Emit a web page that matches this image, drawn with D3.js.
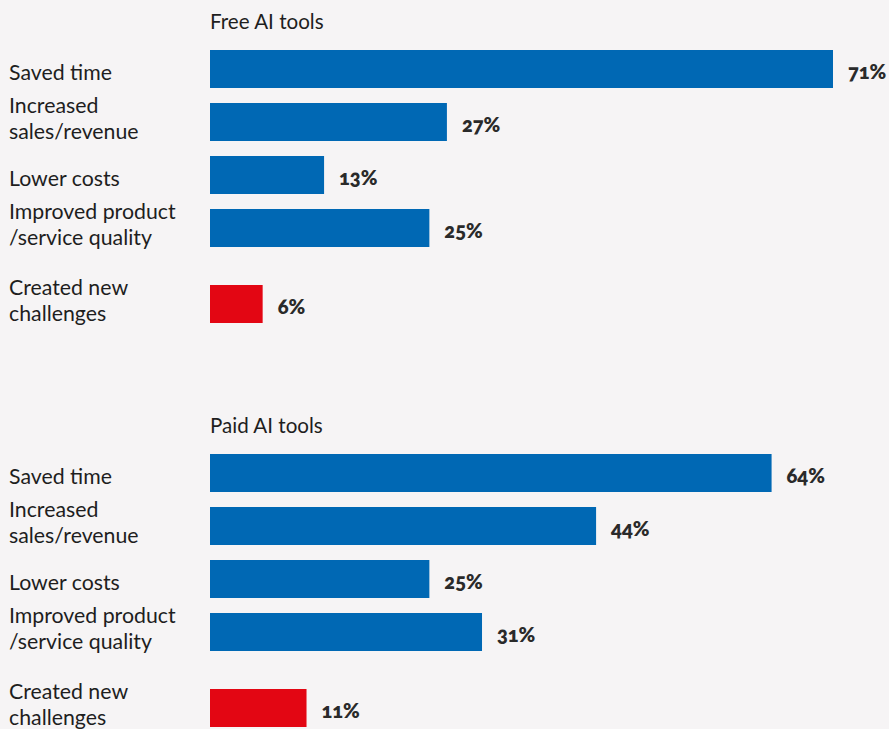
<!DOCTYPE html>
<html>
<head>
<meta charset="utf-8">
<script src="https://cdn.jsdelivr.net/npm/d3@7"></script>
<style>
  html, body { margin: 0; padding: 0; background: #f6f4f5; }
  svg { display: block; }
  .cat { font-family: Lato, "Noto Sans", sans-serif; font-size: 21.3px; fill: #1e1e1e; }
  .title { font-family: Lato, "Noto Sans", sans-serif; font-size: 20.6px; fill: #1e1e1e; }
  .val { font-family: Lato, "Noto Sans", sans-serif; font-size: 20px; font-weight: 800; fill: #2a2a2a;
         font-variant-numeric: oldstyle-nums; }
</style>
</head>
<body>
<svg id="chart" width="889" height="729"></svg>
<script>
// Outcomes reported by users of AI tools (share of respondents, %)
const categories = [
  "Saved time",
  "Increased\nsales/revenue",
  "Lower costs",
  "Improved product\n/service quality",
  "Created new\nchallenges"
];
const freeValues = [71, 27, 13, 25, 6];
const paidValues = [64, 44, 25, 31, 11];
const panelTitles = ["Free AI tools", "Paid AI tools"];

const W = 889, H = 729;
const blue = "#0068b4", red = "#e30613";

const svg = d3.select("#chart");
svg.append("rect").attr("width", W).attr("height", H).attr("fill", "#f6f4f5");

// Shared horizontal scale: percentage -> pixel width
const x = d3.scaleLinear().domain([0, 71]).range([210, 833]);

// Vertical slots: four benefit rows evenly spaced, the "challenges" row set apart
const slot = d3.scalePoint().domain([0, 1, 2, 3]).range([0, 159]);
const barH = 38;
function rowTop(i) { return i < 4 ? slot(i) : 235; }

function drawPanel(title, values, top) {
  const g = svg.append("g").attr("transform", `translate(0,${top})`);

  g.append("text").attr("class", "title")
    .attr("x", 210).attr("y", -21).text(title);

  const rows = g.selectAll("g.row")
    .data(categories.map((c, i) => ({ c, v: values[i], i })))
    .join("g").attr("class", "row")
    .attr("transform", d => `translate(0,${rowTop(d.i)})`);

  rows.append("rect")
    .attr("x", x(0))
    .attr("y", 0)
    .attr("width", d => x(d.v) - x(0))
    .attr("height", barH)
    .attr("fill", d => d.i === 4 ? red : blue);

  rows.append("text").attr("class", "val")
    .attr("x", d => x(d.v) + 15)
    .attr("y", barH / 2 + 10)
    .text(d => d.v + "%");

  rows.each(function(d) {
    const lines = d.c.split("\n");
    const t = d3.select(this).append("text").attr("class", "cat");
    const base = lines.length === 1 ? barH / 2 + 11 : barH / 2 - 9;
    lines.forEach((ln, k) => {
      t.append("tspan").attr("x", 9).attr("y", base + k * 26).text(ln);
    });
  });
}

drawPanel(panelTitles[0], freeValues, 50);
drawPanel(panelTitles[1], paidValues, 454);
</script>
</body>
</html>
